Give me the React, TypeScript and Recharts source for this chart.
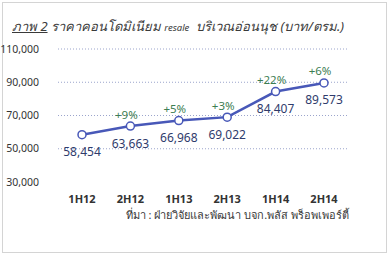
import React from "react";
import { LineChart, Line, XAxis, YAxis, CartesianGrid, LabelList } from "recharts";

const categories = ["1H12", "2H12", "1H13", "2H13", "1H14", "2H14"];
const prices = [58454, 63663, 66968, 69022, 84407, 89573];
const changes = ["", "+9%", "+5%", "+3%", "+22%", "+6%"];
const yTicks = [30000, 50000, 70000, 90000, 110000];
const bandTicks = [0, 1, 2, 3, 4, 5, 6];

const data = categories.map((c, i) => ({ cat: c, price: prices[i], change: changes[i], idx: i + 0.5 }));

const FONT = "'Noto Sans', 'DejaVu Sans', sans-serif";

const fmt = (v: number) => v.toLocaleString("en-US");

const ValueLabel = (props: any) => {
  const { x, y, value } = props;
  return (
    <text x={x} y={y + 17} textAnchor="middle" dominantBaseline="central" fill="#2f3b6c" fontSize={12} fontFamily={FONT}>
      {fmt(value)}
    </text>
  );
};

const ChangeLabel = (props: any) => {
  const { x, y, value } = props;
  if (!value) return null;
  return (
    <text x={x - 4} y={y - 12} textAnchor="middle" dominantBaseline="central" fill="#3d7d52" fontSize={11.5} fontFamily={FONT}>
      {value}
    </text>
  );
};

export default function App() {
  return (
    <div style={{ position: "absolute", left: 0, top: 0, width: 390, height: 255, background: "#fff", fontFamily: FONT }}>
      <div style={{ position: "absolute", left: 2, top: 2, width: 383, height: 249, border: "1px solid #d4d4d4" }} />
      <div style={{ position: "absolute", left: 12, top: 16, fontSize: 13, fontStyle: "italic", color: "#3a3a3a", whiteSpace: "nowrap" }}>
        <span style={{ textDecoration: "underline" }}>ภาพ 2</span> ราคาคอนโดมิเนียม <span style={{ fontSize: 9.5 }}>resale</span>&nbsp; บริเวณอ่อนนุช (บาท/ตรม.)
      </div>
      <div style={{ position: "absolute", right: 41, top: 206, fontSize: 11, color: "#3a3a3a", whiteSpace: "nowrap" }}>
        ที่มา : ฝ่ายวิจัยและพัฒนา บจก.พลัส พร็อพเพอร์ตี้
      </div>
      <div style={{ position: "absolute", left: 0, top: 0 }}>
        <LineChart width={390} height={255} data={data} margin={{ top: 49, right: 42, bottom: 43, left: 8 }}>
          <CartesianGrid vertical={false} stroke="#9ba4cc" strokeDasharray="1 2" horizontalValues={[50000, 70000, 90000, 110000]} />
          <XAxis
            dataKey="cat"
            xAxisId="cat"
            axisLine={false}
            tickLine={false}
            tickSize={6}
            tickMargin={7}
            height={30}
            padding={{ left: 24, right: 24 }}
            tick={{ fill: "#333", fontSize: 11, fontWeight: 700, fontFamily: FONT }}
          />
          <XAxis
            xAxisId="band"
            type="number"
            dataKey="idx"
            domain={[0, 6]}
            ticks={bandTicks}
            tick={false}
            height={0}
            axisLine={{ stroke: "#333", strokeWidth: 1.5 }}
            tickLine={{ stroke: "#333", strokeWidth: 1.2, transform: "translate(0,-2)" }}
            tickSize={4}
          />
          <YAxis
            domain={[30000, 110000]}
            ticks={yTicks}
            axisLine={false}
            tickLine={false}
            tickMargin={13}
            width={50}
            tickFormatter={fmt}
            tick={{ fill: "#333", fontSize: 10.5, fontFamily: FONT }}
          />
          <Line
            xAxisId="cat"
            dataKey="price"
            stroke="#4858b8"
            strokeWidth={2.5}
            dot={{ r: 4, fill: "#fff", stroke: "#4858b8", strokeWidth: 1.5 }}
            isAnimationActive={false}
          >
            <LabelList dataKey="price" content={ValueLabel} />
            <LabelList dataKey="change" content={ChangeLabel} />
          </Line>
        </LineChart>
      </div>
    </div>
  );
}
